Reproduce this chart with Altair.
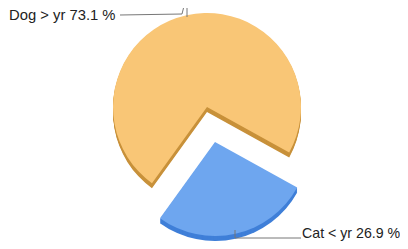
import math
import altair as alt
import pandas as pd

# ---- data ----
categories = ["Cat < yr", "Dog > yr"]
values = [26.9, 73.1]
order = [0, 1]

top_colors = ["#6EA6EF", "#F9C676"]
side_colors = ["#3F7FD8", "#C8913A"]

df = pd.DataFrame({"animal": categories, "value": values, "order": order})
df["label"] = [f"{c} {v} %" for c, v in zip(categories, values)]

PT, PB = 6, 0
OX, OY = 8, 8 + PT  # page offset of plot origin
W, H = 392, 233 - PT - PB
R = 94
start = math.radians(119)
theta_scale = alt.Scale(domain=[0, 100], range=[start, start + 2 * math.pi])


def px(x):
    return x - OX


def py(y):
    return y - OY


centers = {"Dog > yr": (207, 107), "Cat < yr": (215, 142)}

base = alt.Chart(df).transform_stack(
    stack="value", groupby=[], as_=["v0", "v1"], sort=[alt.SortField("order")]
)

layers = []
for cat in ["Dog > yr", "Cat < yr"]:
    idx = categories.index(cat)
    cx, cy = centers[cat]
    sel = base.transform_filter(alt.datum.animal == cat)
    for d in range(5, 0, -1):
        layers.append(
            sel.mark_arc(radius=R, color=side_colors[idx]).encode(
                theta=alt.Theta("v0:Q", scale=theta_scale),
                theta2="v1:Q",
                x=alt.value(px(cx)),
                y=alt.value(py(cy + d)),
            )
        )
    layers.append(
        sel.mark_arc(radius=R, color=top_colors[idx]).encode(
            theta=alt.Theta("v0:Q", scale=theta_scale),
            theta2="v1:Q",
            x=alt.value(px(cx)),
            y=alt.value(py(cy)),
        )
    )

one = alt.Chart(pd.DataFrame({"a": [0]}))
segments = [
    (120, 15, 182, 14),
    (182, 14, 184, 6),
    (184, 6, 187, 6),
    (187, 6, 187, 17),
    (235, 230, 235, 238),
    (235, 238, 301, 238),
]
for x1, y1, x2, y2 in segments:
    layers.append(
        one.mark_rule(color="#777777", strokeWidth=1).encode(
            x=alt.value(px(x1)), y=alt.value(py(y1)),
            x2=alt.value(px(x2)), y2=alt.value(py(y2)),
        )
    )

label_pos = {"Dog > yr": (9, 16, 14.8), "Cat < yr": (302, 233.5, 14.2)}
for cat in categories:
    lx, ly, fs = label_pos[cat]
    layers.append(
        alt.Chart(df)
        .transform_filter(alt.datum.animal == cat)
        .mark_text(
            align="left", baseline="middle", font="Liberation Sans",
            fontSize=fs, color="#222222",
        )
        .encode(text="label:N", x=alt.value(px(lx)), y=alt.value(py(ly)))
    )

chart = (
    alt.layer(*layers)
    .properties(
        width=W, height=H,
        padding={"left": 0, "right": 0, "top": PT, "bottom": PB},
        autosize=alt.AutoSizeParams(type="none"),
    )
    .configure_view(stroke=None)
)

chart.save("out.html", embed_options={"renderer": "svg", "actions": False})
